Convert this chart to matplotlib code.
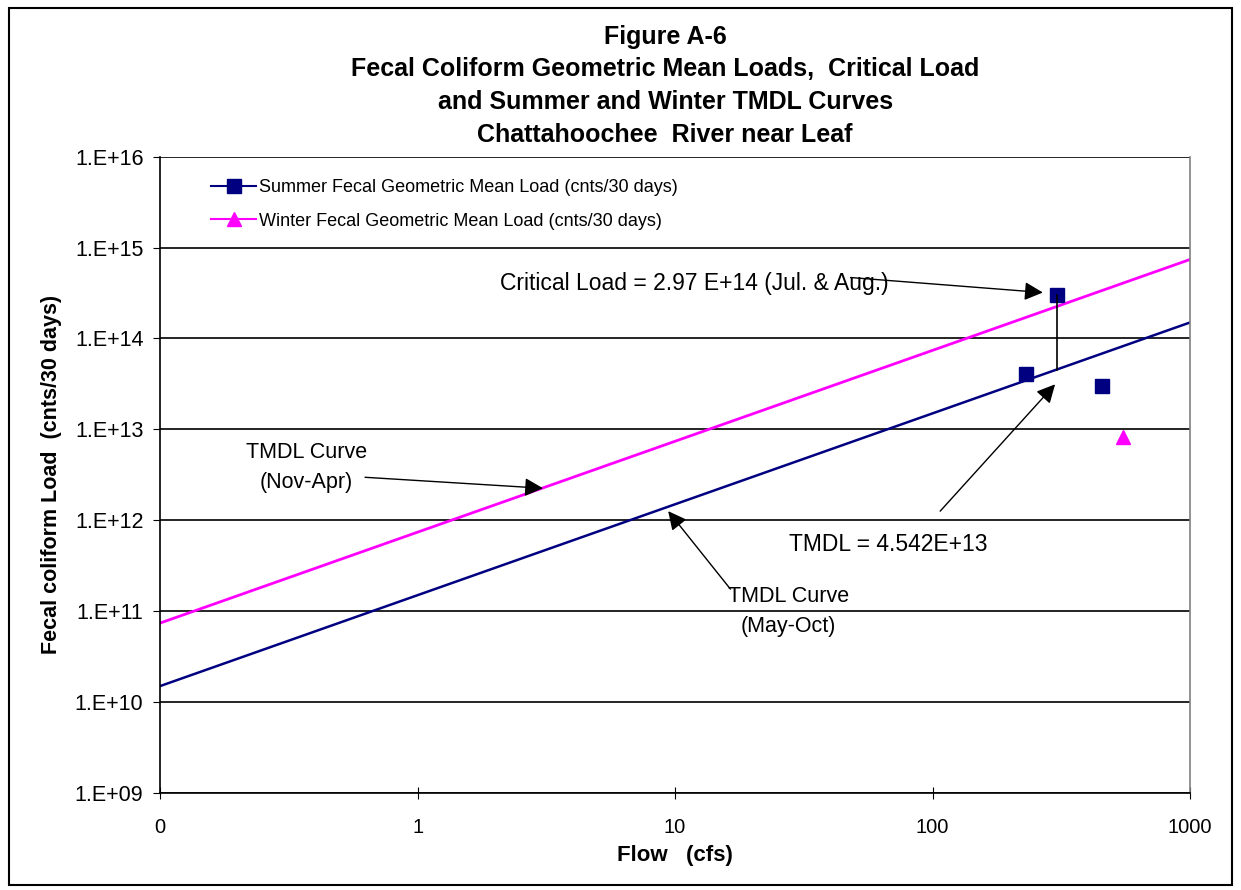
import matplotlib
matplotlib.use('Agg')
import matplotlib.pyplot as plt
from matplotlib.patches import Rectangle

plt.rcParams['font.family'] = ['Liberation Sans', 'DejaVu Sans']

# TMDL curves (end points of straight lines on log-log axes)
curve_flow = [0.1, 1000]
summer_curve = [1.5e10, 1.5e14]
winter_curve = [7.4e10, 7.4e14]

# Geometric mean loads
summer_flow = [231, 304, 455]
summer_load = [4.1e13, 2.97e14, 3.0e13]
winter_flow = [550]
winter_load = [8.3e12]

# critical load / TMDL at critical flow
crit_flow = 304
crit_load = 2.97e14
tmdl_load = 4.542e13

xticks = [0.1, 1, 10, 100, 1000]
xtick_labels = ['0', '1', '10', '100', '1000']
yticks = [1e9, 1e10, 1e11, 1e12, 1e13, 1e14, 1e15, 1e16]
ytick_labels = ['1.E+09', '1.E+10', '1.E+11', '1.E+12', '1.E+13', '1.E+14', '1.E+15', '1.E+16']

navy = '#000080'
pink = '#FF00FF'

fig = plt.figure(figsize=(12.41, 8.9), dpi=100)
ax = fig.add_axes([0.129, 0.109, 0.830, 0.715])

# outer chart border
fig.patches.append(Rectangle((0.007, 0.006), 0.986, 0.985, transform=fig.transFigure,
                             fill=False, edgecolor='black', linewidth=1.5))

ax.plot(curve_flow, winter_curve, color=pink, linewidth=2)
ax.plot(curve_flow, summer_curve, color=navy, linewidth=1.8)

ax.plot(summer_flow, summer_load, linestyle='none', marker='s', markersize=9.5,
        color=navy, label='Summer Fecal Geometric Mean Load (cnts/30 days)')
ax.plot(winter_flow, winter_load, linestyle='none', marker='^', markersize=9.5,
        color=pink, label='Winter Fecal Geometric Mean Load (cnts/30 days)')

# vertical line between critical load and TMDL
ax.plot([crit_flow, crit_flow], [crit_load, tmdl_load], color='black', linewidth=1.2)

ax.set_xscale('log')
ax.set_yscale('log')
ax.set_xlim(0.1, 1000)
ax.set_ylim(1e9, 1e16)
ax.set_xticks(xticks)
ax.set_xticklabels(xtick_labels)
ax.set_yticks(yticks)
ax.set_yticklabels(ytick_labels)
ax.minorticks_off()
ax.tick_params(axis='y', labelsize=15.5, length=5, pad=7)
ax.tick_params(axis='x', labelsize=14.5, direction='inout', length=8, pad=14)
ax.grid(axis='y', color='black', linewidth=1.2)
ax.set_axisbelow(True)
for s in ax.spines.values():
    s.set_linewidth(1.2)
ax.spines['right'].set_color('#808080')
ax.spines['top'].set_visible(False)

ax.set_xlabel('Flow   (cfs)', fontsize=16, fontweight='bold', labelpad=6)
ax.set_ylabel('Fecal coliform Load  (cnts/30 days)', fontsize=15.5, fontweight='bold', labelpad=9)

title = ('Figure A-6\nFecal Coliform Geometric Mean Loads,  Critical Load\n'
         'and Summer and Winter TMDL Curves\nChattahoochee  River near Leaf')
fig.text(0.536, 0.972, title, ha='center', va='top', fontsize=18, fontweight='bold',
         linespacing=1.45)

leg = ax.legend(loc='upper left', bbox_to_anchor=(0.034, 0.99), frameon=False,
                fontsize=13, handlelength=2.5, handletextpad=0.15, labelspacing=0.9)
leg.legend_handles[0].set_linestyle('-')
leg.legend_handles[1].set_linestyle('-')

arrow = dict(arrowstyle='-|>', color='black', linewidth=1, mutation_scale=28,
             shrinkA=0, shrinkB=0)
fs = 16.5
fs_curve = 15.5

ax.text(2.09, 4.0e14, 'Critical Load = 2.97 E+14 (Jul. & Aug.)', fontsize=fs,
        ha='left', va='center')
ax.annotate('', xy=(268, 3.2e14), xytext=(48, 4.68e14), arrowprops=arrow)

ax.text(67, 5.4e11, 'TMDL = 4.542E+13', fontsize=fs, ha='center', va='center')
ax.annotate('', xy=(299, 3.13e13), xytext=(107, 1.26e12), arrowprops=arrow)

ax.text(27.5, 1.0e11, 'TMDL Curve\n(May-Oct)', fontsize=fs_curve, ha='center', va='center',
        linespacing=1.55)
ax.annotate('', xy=(9.4, 1.26e12), xytext=(16.4, 1.75e11), arrowprops=arrow)

ax.text(0.37, 3.8e12, 'TMDL Curve\n(Nov-Apr)', fontsize=fs_curve, ha='center', va='center',
        linespacing=1.55)
ax.annotate('', xy=(3.07, 2.25e12), xytext=(0.625, 2.97e12), arrowprops=arrow)

fig.savefig('out.png', dpi=100)
